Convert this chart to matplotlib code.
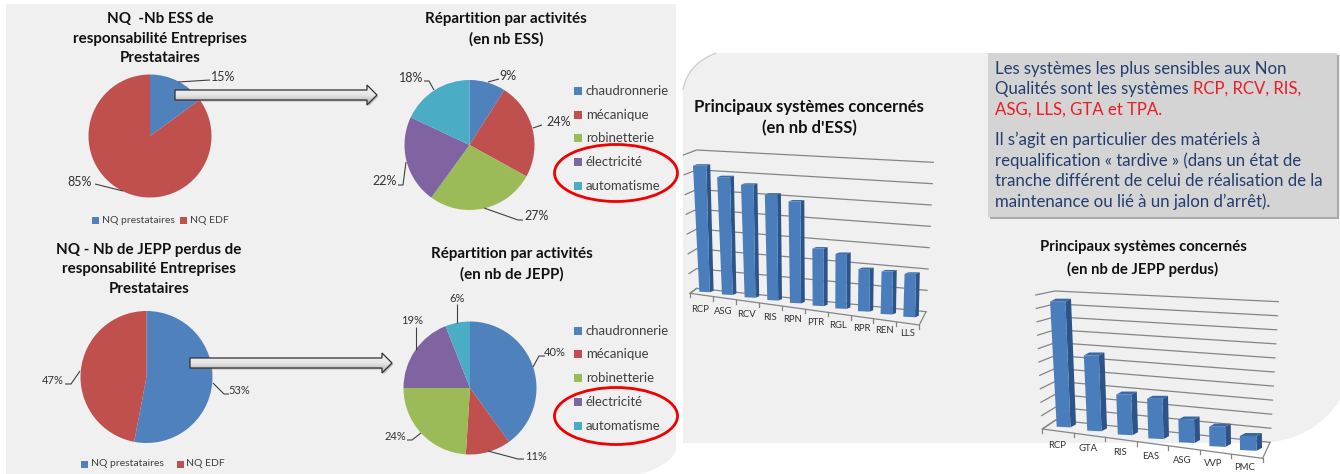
import numpy as np
import matplotlib
matplotlib.use("Agg")
import matplotlib.pyplot as plt
from matplotlib.patches import Polygon, Rectangle, Ellipse, PathPatch
from matplotlib.path import Path

# ---- data ----
share_labels = ["NQ prestataires", "NQ EDF"]
ess_share = [15, 85]
jepp_share = [53, 47]
activities = ["chaudronnerie", "mécanique", "robinetterie", "électricité", "automatisme"]
ess_activity = [9, 24, 27, 22, 18]
jepp_activity = [40, 11, 24, 19, 6]
ess_systems = ["RCP", "ASG", "RCV", "RIS", "RPN", "PTR", "RGL", "RPR", "REN", "LLS"]
ess_values = [63, 58, 55, 51, 48.5, 27, 25.5, 19.5, 19.5, 19.5]
jepp_systems = ["RCP", "GTA", "RIS", "EAS", "ASG", "VVP", "PMC"]
jepp_values = [94, 56, 29.5, 29, 16.5, 14, 10]

# ---- style ----
W, H = 1340, 474
PANEL = "#f0f0f0"
BLUE, RED, GREEN, PURPLE, TEAL = "#4f81bd", "#c0504d", "#9bbb59", "#8064a2", "#4bacc6"
FONT = "Lato"
plt.rcParams["font.family"] = [FONT, "DejaVu Sans"]

fig = plt.figure(figsize=(W / 100, H / 100), dpi=100, facecolor="white")
bg = fig.add_axes([0, 0, 1, 1], zorder=0)
ov = fig.add_axes([0, 0, 1, 1], zorder=3)
for a in (bg, ov):
    a.set_xlim(0, W)
    a.set_ylim(H, 0)
    a.axis("off")
    a.patch.set_alpha(0)


def rounded(points_codes, **kw):
    v, c = zip(*points_codes)
    return PathPatch(Path(v, c), **kw)


M, L, C = Path.MOVETO, Path.LINETO, Path.CURVE4
bg.add_patch(rounded([((6, 4), M), ((676, 4), L), ((676, 450), L),
                      ((672, 462), C), ((655, 470), C), ((640, 474), C),
                      ((6, 474), L), ((6, 4), L)], fc=PANEL, ec="none"))
bg.add_patch(rounded([((683, 90), M), ((686, 72), C), ((698, 60), C), ((716, 53), C),
                      ((1340, 53), L), ((1340, 400), L),
                      ((1322, 428), C), ((1295, 441), C), ((1262, 443), C),
                      ((683, 443), L), ((683, 90), L)], fc=PANEL, ec="none"))
bg.add_patch(rounded([((683, 90), M), ((686, 72), C), ((698, 60), C), ((716, 53), C)],
                     fc="none", ec="#d0d0d0", lw=1))


def pie(values, colors, cx, cy, r):
    ax = fig.add_axes([(cx - r) / W, 1 - (cy + r) / H, 2 * r / W, 2 * r / H], zorder=1)
    ax.pie(values, colors=colors, startangle=90, counterclock=False, radius=1,
           wedgeprops={"linewidth": 0})
    ax.set_xlim(-1, 1)
    ax.set_ylim(-1, 1)


pie(ess_share, [BLUE, RED], 150, 136, 61.5)
pie(ess_activity, [BLUE, RED, GREEN, PURPLE, TEAL], 469.5, 145, 65)
pie(jepp_share, [BLUE, RED], 146.5, 377, 66)
pie(jepp_activity, [BLUE, RED, GREEN, PURPLE, TEAL], 470, 388, 66.5)


def pct(value, x, y, leader, size=8):
    ov.text(x, y, f"{value}%", ha="center", va="center", fontsize=size, color="#333333")
    xs, ys = zip(*leader)
    ov.plot(xs, ys, color="#404040", lw=0.8, solid_capstyle="butt")


pct(ess_share[0], 223, 77, [(178, 82), (210, 80)], 9)
pct(ess_share[1], 80, 182, [(95, 184), (123, 191)], 9)
pct(ess_activity[0], 508, 76, [(488, 82), (499, 79)], 9)
pct(ess_activity[1], 559, 122, [(533, 128), (542, 125)], 9)
pct(ess_activity[2], 537, 216, [(484, 208), (518, 220), (523, 220)], 9)
pct(ess_activity[3], 385, 181, [(406, 162), (403, 185), (398, 185)], 9)
pct(ess_activity[4], 411, 78, [(434, 90), (429, 81), (424, 81)], 9)
pct(jepp_share[0], 239, 390, [(213, 383), (224, 394), (229, 394)])
pct(jepp_share[1], 53, 381, [(80, 371), (71, 384), (65, 384)])
pct(jepp_activity[0], 555, 352, [(533, 367), (539, 356), (545, 356)])
pct(jepp_activity[1], 536, 456, [(488, 451), (518, 459), (524, 459)])
pct(jepp_activity[2], 395, 437, [(421, 433), (412, 440), (407, 440)])
pct(jepp_activity[3], 412, 321, [(416, 350), (416, 327)])
pct(jepp_activity[4], 457, 299, [(457, 323), (457, 304)])


def title(lines, cx, ys, size=10.9):
    for t, y in zip(lines, ys):
        ov.text(cx, y, t, ha="center", va="center", fontsize=size, fontweight="bold", color="#111111")


title(["NQ  -Nb ESS de", "responsabilité Entreprises", "Prestataires"], 160, [19, 39, 58])
title(["Répartition par activités", "(en nb ESS)"], 506, [19, 39])
title(["NQ - Nb de JEPP perdus de", "responsabilité Entreprises", "Prestataires"], 149, [250, 269, 289])
title(["Répartition par activités", "(en nb de JEPP)"], 512, [254, 274])
title(["Principaux systèmes concernés", "(en nb d'ESS)"], 809, [107, 128], 12)
title(["Principaux systèmes concernés", "(en nb de JEPP perdus)"], 1143, [247, 269], 10.7)


def square(x, y, s, color):
    ov.add_patch(Rectangle((x, y - s / 2), s, s, fc=color, ec="none"))


def small_legend(y, xs):
    for lab, col, (xa, xb) in zip(share_labels, [BLUE, RED], xs):
        square(xa, y, 7, col)
        ov.text(xb, y, lab, ha="left", va="center", fontsize=7.5, color="#404040")


small_legend(220, [(92, 102), (180, 190)])
small_legend(464, [(81, 91), (177, 186)])


def act_legend(ys):
    for lab, col, y in zip(activities, [BLUE, RED, GREEN, PURPLE, TEAL], ys):
        square(574, y, 8, col)
        ov.text(586, y, lab, ha="left", va="center", fontsize=9.45, color="#404040")


act_legend([91, 115, 138, 162, 186])
act_legend([331, 354, 378, 402, 426])
for cy in (173, 416):
    ov.add_patch(Ellipse((616, cy), 123, 57, fc="none", ec="#f00000", lw=2))


def arrow(x0, x1, tip, yc, hb, hh):
    pts = [(x0, yc - hb), (x1, yc - hb), (x1, yc - hh), (tip, yc), (x1, yc + hh), (x1, yc + hb), (x0, yc + hb)]
    ov.add_patch(Polygon([(x + 1.5, y + 1.5) for x, y in pts], fc="#808080", ec="none", alpha=0.45))
    poly = Polygon(pts, fc="none", ec="#303030", lw=0.9, zorder=3)
    ov.add_patch(poly)
    grad = np.linspace(0, 1, 32)[:, None]
    im = ov.imshow(grad, extent=(x0, tip, yc + hh, yc - hh), cmap=matplotlib.colors.LinearSegmentedColormap.from_list(
        "g", ["#f4f4f4", "#e6e6e6", "#a8a8a8"]), aspect="auto", zorder=2)
    im.set_clip_path(poly)


arrow(175, 367, 377, 95, 5, 10)
arrow(190, 382, 392, 363, 5, 10)
ov.set_xlim(0, W)
ov.set_ylim(H, 0)

GRID = "#858585"


def bars3d(values, cats, g):
    n = len(values)
    for i in range(g["ngrid"] + 1):
        f = i / g["ngrid"]
        yl = g["back_l_top"][1] + f * (g["back_l_bot"][1] - g["back_l_top"][1])
        xl = g["back_l_top"][0] + f * (g["back_l_bot"][0] - g["back_l_top"][0])
        yr = g["back_r_top"][1] + f * (g["back_r_bot"][1] - g["back_r_top"][1])
        xr = g["back_r_top"][0] + f * (g["back_r_bot"][0] - g["back_r_top"][0])
        xo = g["out_top"][0] + f * (g["front_l"][0] - g["out_top"][0])
        yo = g["out_top"][1] + f * (g["front_l"][1] - g["out_top"][1])
        ov.plot([xo, xl, xr], [yo, yl, yr], color=GRID, lw=0.9, zorder=1)
    fl, fr, brb, blb = g["front_l"], g["front_r"], g["back_r_bot"], g["back_l_bot"]
    ov.plot([blb[0], fl[0], fr[0], brb[0]], [blb[1], fl[1], fr[1], brb[1]], color=GRID, lw=0.9, zorder=1)
    for i in range(n + 1):
        f = i / n
        x = fl[0] + f * (fr[0] - fl[0])
        y = fl[1] + f * (fr[1] - fl[1])
        ov.plot([x, x], [y, y + 4], color=GRID, lw=0.9, zorder=1)
    for i, (v, c) in enumerate(zip(values, cats)):
        t = i / (n - 1)
        mix = lambda pair: pair[0] + t * (pair[1] - pair[0])
        xb = mix(g["base_x"])
        yb = mix(g["base_y"])
        wb = mix(g["width"])
        h = v * mix(g["scale"])
        xtl = xb + mix(g["lean_l"]) * h
        xtr = xb + wb + mix(g["lean_r"]) * h
        yt = yb - h
        dx, dy = g["depth"]
        ybr = yb + g["base_slope"] * wb
        ov.add_patch(Polygon([(xtr, yt), (xtr + dx, yt + dy), (xb + wb + dx, ybr + dy), (xb + wb, ybr)],
                             fc="#2d5488", ec="none", zorder=2))
        ov.add_patch(Polygon([(xtl, yt), (xtl + dx, yt + dy), (xtr + dx, yt + dy), (xtr, yt)],
                             fc="#3a6aa6", ec="none", zorder=2))
        ov.add_patch(Polygon([(xb, yb), (xtl, yt), (xtr, yt), (xb + wb, ybr)],
                             fc="#4a7dbc", ec="none", zorder=2))
        ov.text(mix(g["label_x"]), mix(g["label_y"]), c, ha="center", va="center",
                fontsize=6.8, color="#333333")


def zc(x0, y0, x, y):
    return (x0 + x / 3, y0 + y / 3)


bars3d(ess_values, ess_systems, dict(
    ngrid=7,
    back_l_top=zc(680, 50, 50, 300), back_l_bot=zc(680, 50, 50, 715),
    back_r_top=zc(680, 50, 760, 337), back_r_bot=zc(680, 50, 738, 785),
    out_top=zc(680, 50, 10, 315), front_l=zc(680, 50, 30, 730), front_r=zc(680, 50, 718, 825),
    base_x=(699.3, 903.3), base_y=(291.7, 316.7), width=(10.5, 11.7), scale=(2.0, 2.2),
    lean_l=(-0.05, 0.03), lean_r=(-0.027, 0.023), depth=(3.8, -1.5), base_slope=0.05,
    label_x=(700.5, 907.5), label_y=(309, 333.5)))
bars3d(jepp_values, jepp_systems, dict(
    ngrid=10,
    back_l_top=zc(1020, 280, 105, 33), back_l_bot=zc(1020, 280, 107, 420),
    back_r_top=zc(1020, 280, 775, 65), back_r_bot=zc(1020, 280, 750, 487),
    out_top=zc(1020, 280, 47, 45), front_l=zc(1020, 280, 67, 447), front_r=zc(1020, 280, 728, 535),
    base_x=(1056.7, 1240), base_y=(426.7, 450), width=(13.8, 16.5), scale=(1.33, 1.4),
    lean_l=(-0.053, -0.01), lean_r=(-0.04, -0.01), depth=(5.5, -3), base_slope=0.05,
    label_x=(1056.7, 1245), label_y=(445, 467.7)))

# text box
ov.add_patch(Rectangle((990, 55), 349, 164, fc="#8c8c8c", ec="none", alpha=0.7, zorder=1))
ov.add_patch(Rectangle((988, 53), 349, 164, fc="#d4d4d4", ec="none", zorder=1.5))
NAVY, TXTRED = "#243d6e", "#ea1c24"
box_lines = [
    (69, [("Les systèmes les plus sensibles aux Non", NAVY)]),
    (89, [("Qualités sont les systèmes ", NAVY), ("RCP, RCV, RIS,", TXTRED)]),
    (110, [("ASG, LLS, GTA et TPA.", TXTRED)]),
    (140, [("Il s’agit en particulier des matériels à", NAVY)]),
    (161, [("requalification « tardive » (dans un état de", NAVY)]),
    (181, [("tranche différent de celui de réalisation de la", NAVY)]),
    (202, [("maintenance ou lié à un jalon d’arrêt).", NAVY)]),
]
fig.canvas.draw()
rend = fig.canvas.get_renderer()
for y, parts in box_lines:
    x = 995
    for s, col in parts:
        t = ov.text(x, y, s, ha="left", va="center", fontsize=12.1, color=col, zorder=4)
        x += t.get_window_extent(rend).width

fig.savefig("out.png", dpi=100, facecolor="white")
